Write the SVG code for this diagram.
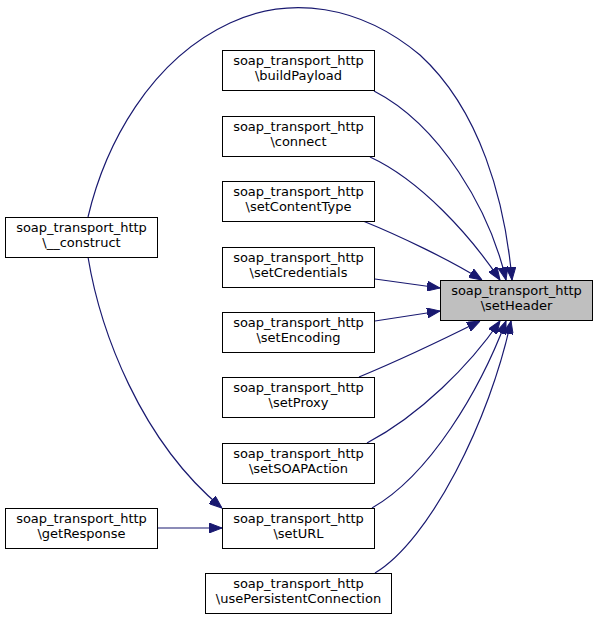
<svg xmlns="http://www.w3.org/2000/svg" width="597" height="619" viewBox="0 0 597 619">
<style>
.node rect{fill:#ffffff;stroke:#000000;stroke-width:1}
.node.hl rect{fill:#bfbfbf}
.node text{font-family:"DejaVu Sans","Liberation Sans",sans-serif;font-size:13px;fill:#000000;text-anchor:middle}
.edges path{fill:none;stroke:#191970;stroke-width:1.2}
</style>
<defs>
<marker id="arr" viewBox="0 0 13 10" refX="13" refY="5" markerWidth="13" markerHeight="10" markerUnits="userSpaceOnUse" orient="auto">
<path d="M0,0 L13,5 L0,10 z" fill="#191970" stroke="#191970" stroke-width="1"/>
</marker>
</defs>
<rect width="597" height="619" fill="#ffffff"/>
<g class="edges">
<path marker-end="url(#arr)" d="M88,217 C105,145 150,60 230,23 C290,-5 360,5 420,55 C480,110 505,200 512,280"/>
<path marker-end="url(#arr)" d="M374,91 C440,125 490,210 506,280"/>
<path marker-end="url(#arr)" d="M370,157 C420,180 470,235 500,280"/>
<path marker-end="url(#arr)" d="M363,221 C400,236 450,260 482,280"/>
<path marker-end="url(#arr)" d="M375,279 L440,288"/>
<path marker-end="url(#arr)" d="M375,321 L440,311"/>
<path marker-end="url(#arr)" d="M359,377 C400,360 450,336 480,321"/>
<path marker-end="url(#arr)" d="M367,443 C420,415 470,365 500,321"/>
<path marker-end="url(#arr)" d="M372,508 C430,475 480,390 506,321"/>
<path marker-end="url(#arr)" d="M375,573 C430,540 490,420 511,321"/>
<path marker-end="url(#arr)" d="M88,257 C100,330 140,440 222,508"/>
<path marker-end="url(#arr)" d="M157,528 L222,528"/>
</g>
<g id="setHeader" class="node hl"><rect x="440.5" y="280.5" width="152" height="40"/><text x="516.5" y="295">soap_transport_http</text><text x="516.5" y="310">\setHeader</text></g>
<g id="construct" class="node"><rect x="5.5" y="217.5" width="152" height="40"/><text x="81.5" y="232">soap_transport_http</text><text x="81.5" y="247">\__construct</text></g>
<g id="buildPayload" class="node"><rect x="222.5" y="50.5" width="152" height="40"/><text x="298.5" y="65">soap_transport_http</text><text x="298.5" y="80">\buildPayload</text></g>
<g id="connect" class="node"><rect x="222.5" y="116.5" width="152" height="40"/><text x="298.5" y="131">soap_transport_http</text><text x="298.5" y="146">\connect</text></g>
<g id="setContentType" class="node"><rect x="222.5" y="181.5" width="152" height="40"/><text x="298.5" y="196">soap_transport_http</text><text x="298.5" y="211">\setContentType</text></g>
<g id="setCredentials" class="node"><rect x="222.5" y="247.5" width="152" height="40"/><text x="298.5" y="262">soap_transport_http</text><text x="298.5" y="277">\setCredentials</text></g>
<g id="setEncoding" class="node"><rect x="222.5" y="312.5" width="152" height="40"/><text x="298.5" y="327">soap_transport_http</text><text x="298.5" y="342">\setEncoding</text></g>
<g id="setProxy" class="node"><rect x="222.5" y="377.5" width="152" height="40"/><text x="298.5" y="392">soap_transport_http</text><text x="298.5" y="407">\setProxy</text></g>
<g id="setSOAPAction" class="node"><rect x="222.5" y="443.5" width="152" height="40"/><text x="298.5" y="458">soap_transport_http</text><text x="298.5" y="473">\setSOAPAction</text></g>
<g id="setURL" class="node"><rect x="222.5" y="508.5" width="152" height="40"/><text x="298.5" y="523">soap_transport_http</text><text x="298.5" y="538">\setURL</text></g>
<g id="getResponse" class="node"><rect x="5.5" y="508.5" width="152" height="40"/><text x="81.5" y="523">soap_transport_http</text><text x="81.5" y="538">\getResponse</text></g>
<g id="usePersistentConnection" class="node"><rect x="205.5" y="573.5" width="186" height="40"/><text x="298.5" y="588">soap_transport_http</text><text x="298.5" y="603">\usePersistentConnection</text></g>
</svg>
